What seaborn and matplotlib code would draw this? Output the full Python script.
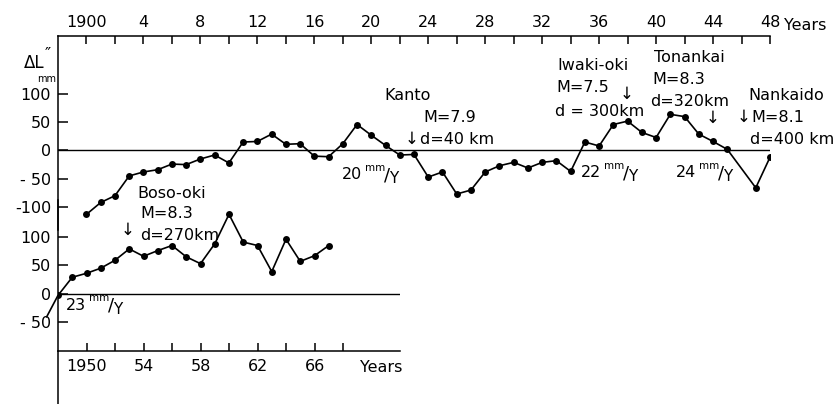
import matplotlib
matplotlib.use("Agg")
import matplotlib.pyplot as plt
import seaborn as sns

# ---- data -------------------------------------------------------------
upper_years = [1900, 1901, 1902, 1903, 1904, 1905, 1906, 1907, 1908, 1909,
               1910, 1911, 1912, 1913, 1914, 1915, 1916, 1917, 1918, 1919,
               1920, 1921, 1922, 1923, 1924, 1925, 1926, 1927, 1928, 1929,
               1930, 1931, 1932, 1933, 1934, 1935, 1936, 1937, 1938, 1939,
               1940, 1941, 1942, 1943, 1944, 1945, 1947, 1948]
upper_dL = [-113, -92, -80, -45, -38, -34, -24, -25, -15, -8,
            -22, 15, 16, 29, 11, 12, -10, -11, 12, 46,
            27, 9, -8, -7, -47, -38, -77, -70, -38, -27,
            -21, -31, -21, -18, -37, 15, 8, 46, 52, 32,
            23, 64, 60, 29, 16, 2, -66, -12]

lower_years = [1948, 1949, 1950, 1951, 1952, 1953, 1954, 1955, 1956, 1957,
               1958, 1959, 1960, 1961, 1962, 1963, 1964, 1965, 1966, 1967]
lower_dL = [-3, 29, 36, 45, 59, 79, 66, 76, 85, 65,
            53, 88, 140, 91, 85, 39, 96, 57, 67, 85]

# trend lead-in before the first lower point
lead_years = [1947.2, 1948]
lead_dL = [-41, -3]

upper_yticks = [-100, -50, 0, 50, 100]
upper_ylabels = ["-100", "- 50", "0", "50", "100"]
lower_yticks = [-50, 0, 50, 100]
lower_ylabels = ["- 50", "0", "50", "100"]

# ---- figure -------------------------------------------------------------
sns.set_theme(style="white")
plt.rcParams["font.family"] = ["DejaVu Sans"]
W, H = 836, 404
fig = plt.figure(figsize=(W / 100, H / 100), dpi=100)
fig.patch.set_facecolor("white")

FS = 11.5
INK = "black"


def box(l, t, r, b):
    return fig.add_axes([l / W, 1 - b / H, (r - l) / W, (b - t) / H])


def put(px, py, s, size=FS, ha="left", va="center", **kw):
    fig.text(px / W, 1 - py / H, s, fontsize=size, ha=ha, va=va,
             color=INK, **kw)


def rate(px, py, num):
    put(px, py, num)
    put(px + 23, py - 7, "mm", size=7.5)
    put(px + 42, py + 1, "/", size=13)
    put(px + 47, py + 4, "Y", size=11)


# upper panel: 1900-1948
ax_u = box(58, 36, 770, 230)
ax_u.set_facecolor("none")
sns.lineplot(x=upper_years, y=upper_dL, ax=ax_u, color=INK, marker="o",
             markersize=5, markeredgewidth=0, linewidth=1.2, sort=False,
             estimator=None)
ax_u.axhline(0, color=INK, lw=1.0)
ax_u.set_xlim(1898, 1948)
ax_u.set_ylim((150.5 - 230) / 0.565, (150.5 - 36) / 0.565)
for s in ("bottom", "right"):
    ax_u.spines[s].set_visible(False)
for s in ("top", "left"):
    ax_u.spines[s].set_color(INK)
    ax_u.spines[s].set_linewidth(1.1)
ax_u.xaxis.tick_top()
top_ticks = list(range(1900, 1949, 2))
ax_u.set_xticks(top_ticks)
ax_u.set_xticklabels([("1900" if y == 1900 else str(y - 1900))
                      if (y - 1900) % 4 == 0 else "" for y in top_ticks])
ax_u.set_yticks(upper_yticks)
ax_u.set_yticklabels(upper_ylabels)
ax_u.tick_params(axis="x", direction="in", length=6, width=1.1, pad=4,
                 labelsize=FS, colors=INK, top=True, bottom=False)
ax_u.tick_params(axis="y", direction="in", length=7, width=1.1, pad=5,
                 labelsize=FS, colors=INK, left=True)
ax_u.set_xlabel("")
ax_u.set_ylabel("")

# lower panel: 1948-1967
ax_l = box(58, 200, 400, 351)
ax_l.set_facecolor("none")
ax_l.plot(lead_years, lead_dL, color=INK, lw=1.2, clip_on=False)
sns.lineplot(x=lower_years, y=lower_dL, ax=ax_l, color=INK, marker="o",
             markersize=5, markeredgewidth=0, linewidth=1.2, sort=False,
             estimator=None)
ax_l.axhline(0, color=INK, lw=1.0)
ax_l.set_xlim(1948, 1972)
ax_l.set_ylim((293.7 - 351) / 0.567, (293.7 - 200) / 0.567)
for s in ("top", "right"):
    ax_l.spines[s].set_visible(False)
for s in ("bottom", "left"):
    ax_l.spines[s].set_color(INK)
    ax_l.spines[s].set_linewidth(1.1)
ax_l.axvline(1948, ymin=-53 / 151, ymax=0, color=INK, lw=1.1,
             clip_on=False)
bot_ticks = list(range(1950, 1969, 2))
ax_l.set_xticks(bot_ticks)
ax_l.set_xticklabels([("1950" if y == 1950 else str(y - 1900))
                      if (y - 1950) % 4 == 0 else "" for y in bot_ticks])
ax_l.set_yticks(lower_yticks)
ax_l.set_yticklabels(lower_ylabels)
ax_l.tick_params(axis="x", direction="in", length=6, width=1.1, pad=6,
                 labelsize=FS, colors=INK, bottom=True)
ax_l.tick_params(axis="y", direction="in", length=7, width=1.1, pad=5,
                 labelsize=FS, colors=INK, left=True)
ax_l.set_xlabel("")
ax_l.set_ylabel("")

# axis captions
put(784, 26, "Years")
put(360, 367, "Years")
put(24, 63, "ΔL", size=12)
put(45, 55, "″", size=12)
put(37, 79, "mm", size=7)

# event annotations
put(384, 96, "Kanto")
put(423, 118, "M=7.9")
put(412, 139, "↓", size=12, ha="center")
put(420, 140, "d=40 km")

put(557, 65, "Iwaki-oki")
put(556, 87, "M=7.5")
put(627, 94, "↓", size=12, ha="center")
put(555, 111, "d = 300km")

put(654, 57, "Tonankai")
put(652, 79, "M=8.3")
put(650, 102, "d=320km")
put(713, 118, "↓", size=12, ha="center")

put(748, 96, "Nankaido")
put(744, 117, "↓", size=12, ha="center")
put(751, 117, "M=8.1")
put(750, 139, "d=400 km")

put(137, 193, "Boso-oki")
put(140, 213, "M=8.3")
put(128, 230, "↓", size=12, ha="center")
put(140, 236, "d=270km")

rate(342, 175, "20")
rate(581, 173, "22")
rate(676, 173, "24")
rate(66, 305, "23")

fig.savefig("out.png", dpi=100, facecolor="white")
